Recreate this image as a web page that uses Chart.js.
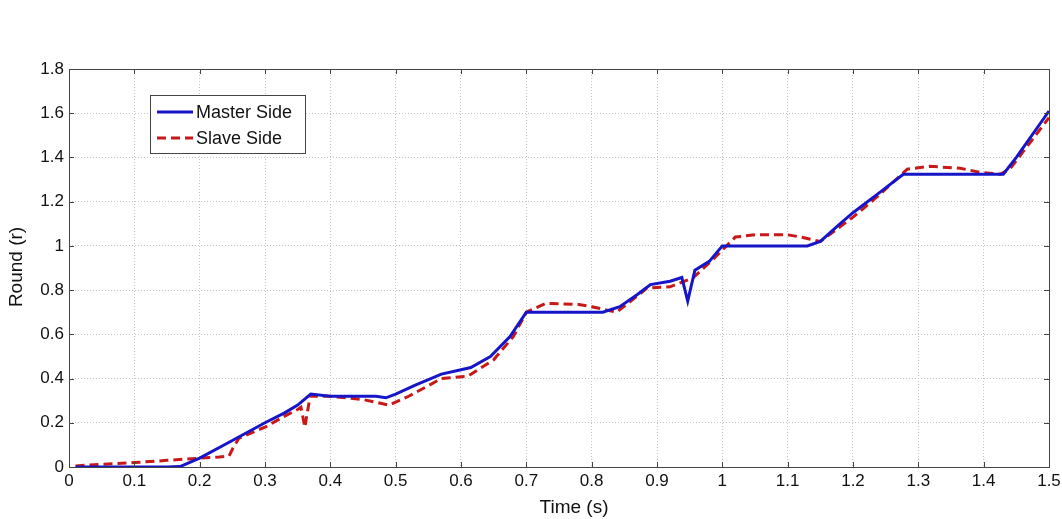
<!DOCTYPE html>
<html><head><meta charset="utf-8">
<script src="https://cdn.jsdelivr.net/npm/chart.js@4/dist/chart.umd.min.js"></script>
<style>html,body{margin:0;padding:0;background:#fff}#wrap{width:1062px;height:519px}</style>
</head><body><div id="wrap"><canvas id="c" width="1062" height="519"></canvas></div>
<script>
const masterTime = [0.01,0.05,0.1,0.15,0.17,0.2,0.25,0.3,0.33,0.35,0.37,0.4,0.45,0.47,0.485,0.5,0.53,0.57,0.6,0.615,0.645,0.675,0.70,0.75,0.8,0.817,0.843,0.87,0.89,0.92,0.938,0.947,0.958,0.98,1.0,1.05,1.1,1.13,1.15,1.18,1.2,1.24,1.277,1.3,1.35,1.4,1.43,1.45,1.5];
const masterRound = [0,0,0,0,0.002,0.04,0.12,0.2,0.245,0.28,0.33,0.32,0.32,0.32,0.313,0.33,0.37,0.42,0.44,0.45,0.5,0.59,0.70,0.70,0.70,0.70,0.725,0.78,0.825,0.84,0.857,0.75,0.89,0.93,1.0,1.0,1.0,1.0,1.02,1.1,1.15,1.24,1.324,1.324,1.324,1.324,1.324,1.4,1.61];
const slaveTime = [0.01,0.05,0.1,0.15,0.2,0.23,0.245,0.251,0.26,0.3,0.33,0.35,0.355,0.361,0.369,0.4,0.45,0.49,0.52,0.57,0.61,0.65,0.68,0.70,0.73,0.78,0.8,0.838,0.86,0.885,0.92,0.955,0.986,1.02,1.05,1.1,1.12,1.15,1.2,1.24,1.283,1.318,1.364,1.394,1.425,1.44,1.5];
const slaveRound = [0.005,0.012,0.02,0.03,0.04,0.045,0.05,0.086,0.13,0.18,0.23,0.26,0.27,0.18,0.32,0.32,0.305,0.28,0.32,0.40,0.41,0.485,0.59,0.70,0.74,0.735,0.725,0.70,0.75,0.81,0.815,0.855,0.94,1.04,1.05,1.05,1.04,1.02,1.13,1.23,1.347,1.36,1.351,1.333,1.324,1.347,1.58];
const xTicks = [0,0.1,0.2,0.3,0.4,0.5,0.6,0.7,0.8,0.9,1,1.1,1.2,1.3,1.4,1.5];
const yTicks = [0,0.2,0.4,0.6,0.8,1,1.2,1.4,1.6,1.8];
const seriesNames = ['Master Side','Slave Side'];
const xTitle = 'Time (s)';
const yTitle = 'Round (r)';

const FONT = '"Liberation Sans", Arial, sans-serif';
const BLUE = '#1616c8';
const RED = '#c81818';

const toPts = (t, v) => t.map((x, i) => ({x, y: v[i]}));

const framePlugin = {
  id: 'frame',
  afterDraw(chart) {
    const {ctx, chartArea: a, scales: {x, y}} = chart;
    ctx.save();
    ctx.strokeStyle = '#444';
    ctx.lineWidth = 1;
    ctx.setLineDash([]);
    ctx.strokeRect(a.left + 0.5, a.top + 0.5, a.right - a.left, a.bottom - a.top);
    const L = 5;
    ctx.beginPath();
    xTicks.forEach(v => {
      const px = Math.round(x.getPixelForValue(v)) + 0.5;
      ctx.moveTo(px, a.bottom); ctx.lineTo(px, a.bottom - L);
      ctx.moveTo(px, a.top); ctx.lineTo(px, a.top + L);
    });
    yTicks.forEach(v => {
      const py = Math.round(y.getPixelForValue(v)) + 0.5;
      ctx.moveTo(a.left, py); ctx.lineTo(a.left + L, py);
      ctx.moveTo(a.right, py); ctx.lineTo(a.right - L, py);
    });
    ctx.stroke();
    // axis titles
    ctx.fillStyle = '#111';
    ctx.font = '19px ' + FONT;
    ctx.textAlign = 'center';
    ctx.textBaseline = 'middle';
    ctx.fillText(xTitle, 574, 508);
    ctx.save();
    ctx.translate(17, 267);
    ctx.rotate(-Math.PI / 2);
    ctx.fillText(yTitle, 0, 0);
    ctx.restore();
    // legend
    const bx = 150, by = 95, bw = 155, bh = 58;
    ctx.fillStyle = '#fff';
    ctx.fillRect(bx, by, bw, bh);
    ctx.strokeStyle = '#444';
    ctx.lineWidth = 1;
    ctx.strokeRect(bx + 0.5, by + 0.5, bw, bh);
    const ds = chart.data.datasets;
    const rows = [112, 138];
    ds.forEach((d, i) => {
      ctx.beginPath();
      ctx.strokeStyle = d.borderColor;
      ctx.lineWidth = 3;
      ctx.setLineDash(d.borderDash || []);
      ctx.moveTo(157, rows[i]); ctx.lineTo(193, rows[i]);
      ctx.stroke();
      ctx.setLineDash([]);
      ctx.fillStyle = '#111';
      ctx.font = '18px ' + FONT;
      ctx.textAlign = 'left';
      ctx.fillText(d.label, 196, rows[i] + 1);
    });
    ctx.restore();
  }
};

new Chart(document.getElementById('c'), {
  type: 'line',
  data: {
    datasets: [
      {label: seriesNames[0], data: toPts(masterTime, masterRound), borderColor: BLUE, borderWidth: 3, pointRadius: 0, tension: 0, fill: false},
      {label: seriesNames[1], data: toPts(slaveTime, slaveRound), borderColor: RED, borderWidth: 3, borderDash: [9, 5], pointRadius: 0, tension: 0, fill: false}
    ]
  },
  options: {
    responsive: false,
    animation: false,
    layout: {padding: {left: 0, right: 13, top: 69, bottom: 0}},
    plugins: {legend: {display: false}, tooltip: {enabled: false}},
    scales: {
      x: {
        type: 'linear', min: 0, max: 1.5,
        afterBuildTicks: s => { s.ticks = xTicks.map(v => ({value: v})); },
        afterFit: s => { s.height = 52; s.paddingLeft = 0; s.paddingRight = 0; },
        ticks: {color: '#111', font: {size: 17, family: FONT}, padding: 4, maxRotation: 0, autoSkip: false,
          callback: v => String(v)},
        grid: {color: '#c4c4c4', drawTicks: false, lineWidth: 1},
        border: {display: false, dash: [1, 2]}
      },
      y: {
        type: 'linear', min: 0, max: 1.8,
        afterBuildTicks: s => { s.ticks = yTicks.map(v => ({value: v})); },
        afterFit: s => { s.width = 69; s.paddingTop = 0; s.paddingBottom = 0; },
        ticks: {color: '#111', font: {size: 17, family: FONT}, padding: 5, autoSkip: false,
          callback: v => String(v)},
        grid: {color: '#c4c4c4', drawTicks: false, lineWidth: 1},
        border: {display: false, dash: [1, 2]}
      }
    }
  },
  plugins: [framePlugin]
});
</script>
</body></html>
